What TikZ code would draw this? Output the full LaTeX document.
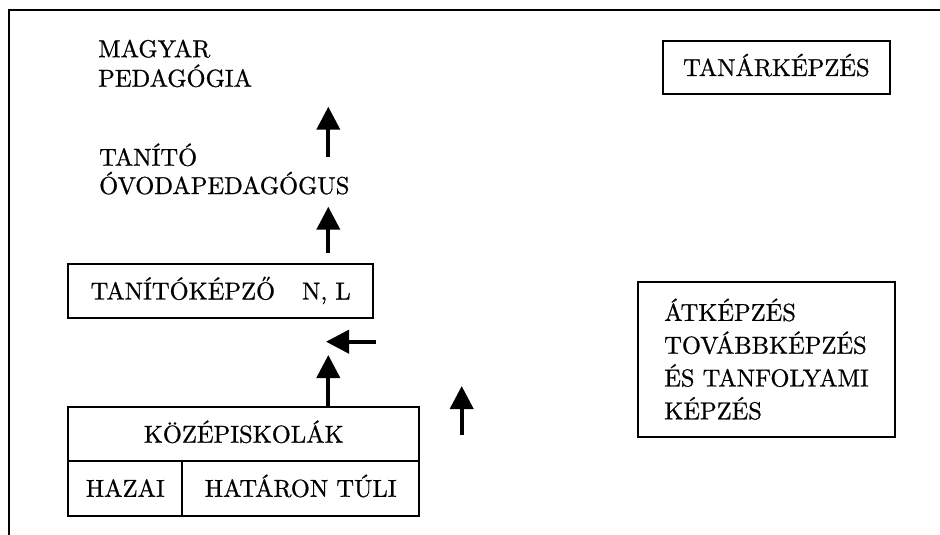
\documentclass[tikz,border=0pt]{standalone}
\usepackage{fontspec}
% Latin Modern at its 10pt design, scaled freely and slightly darkened
\setmainfont{lmroman10-regular}[Extension=.otf, FakeBold=0.8]
\usetikzlibrary{arrows.meta}
\begin{document}
\begin{tikzpicture}[x=1pt,y=-1pt,
  every node/.style={font=\fontsize{24.5}{29.5}\selectfont, inner sep=0pt},
  box/.style={draw, line width=2pt, text height=17pt, text depth=0pt},
  label/.style={anchor=base west, align=left},
  uparrow/.style={line width=4pt, -{Triangle[length=23pt,width=23pt]}}]
\useasboundingbox (0,0) rectangle (940,535);
% open frame: top and left edges
\draw[line width=2.4pt] (9,535) -- (9,10) -- (940,10);

% free texts on the left (anchored at the last baseline)
\node[label] (magyar) at (98,86.7) {MAGYAR\\PEDAGÓGIA};
\node[label, font=\fontsize{24.5}{28.3}\selectfont] (tanito) at (99,194) {TANÍTÓ\\ÓVODAPEDAGÓGUS};

% boxes
\node[box, minimum width=227pt, minimum height=53pt] (tanar) at (776.4,67.5) {TANÁRKÉPZÉS};
\node[box, minimum width=304.7pt, minimum height=54pt] (tkep) at (220.7,291) {TANÍTÓKÉPZŐ\hspace{1.1em}N, L};
\node[box, minimum width=350.7pt, minimum height=53.7pt] (kozep) at (243.7,434.2) {KÖZÉPISKOLÁK};
\node[box, minimum width=114pt, minimum height=54.7pt] (hazai) at (125.3,488.3) {HAZAI};
\node[box, minimum width=236.7pt, minimum height=54.7pt] (tuli) at (300.7,488.3) {HATÁRON TÚLI};
\node[draw, line width=2pt, align=left, minimum width=257pt, minimum height=155pt,
      font=\fontsize{24.5}{32.8}\selectfont] (atkep) at (766.5,359.2)
      {ÁTKÉPZÉS\\TOVÁBBKÉPZÉS\\ÉS TANFOLYAMI\\KÉPZÉS};

% arrow end points
\coordinate (a1s) at (328.3,156.7); \coordinate (a1e) at (328.3,106.7);
\coordinate (a2s) at (328.3,253);   \coordinate (a2e) at (328.3,206.7);
\coordinate (a3s) at (376,341.7);   \coordinate (a3e) at (326,341.7);
\coordinate (a4s) at (kozep.north -| 328.3,0); \coordinate (a4e) at (328.3,355);
\coordinate (a5s) at (461.7,435);   \coordinate (a5e) at (461.7,386);

\draw[uparrow] (a1s) -- (a1e);
\draw[uparrow] (a2s) -- (a2e);
\draw[uparrow] (a3s) -- (a3e);
\draw[uparrow] (a4s) -- (a4e);
\draw[uparrow] (a5s) -- (a5e);
\end{tikzpicture}
\end{document}
